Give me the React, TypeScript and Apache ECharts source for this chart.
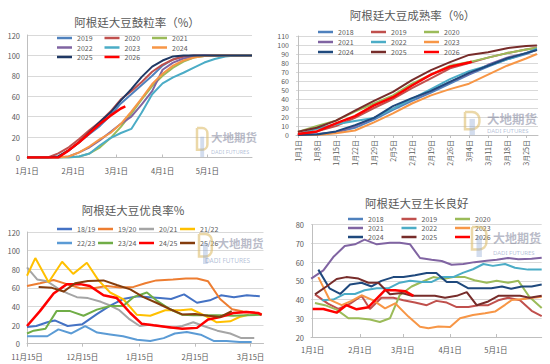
import React, { useEffect, useRef } from 'react';
import * as echarts from 'echarts';

const FONT = '"Noto Sans CJK SC", "Noto Sans", sans-serif';
const TXT = '#595959';

// ---------- Chart 1: 鼓粒率 ----------
const bulgeTitle = '阿根廷大豆鼓粒率（%）';
const bulgeTickDays = [0, 31, 60, 91, 121];
const bulgeTickLabels = ['1月1日', '2月1日', '3月1日', '4月1日', '5月1日'];
const bulgeDays = [0, 7, 14, 21, 28, 35, 42, 49, 56, 63, 70, 77, 84, 91, 98, 105, 112, 119, 126, 133, 140, 147, 151];
const bulge2019 = [0, 0, 0, 1, 7, 15, 23, 31, 41, 53, 62, 71, 80, 90, 96, 99, 100, 100, 100, 100, 100, 100, 100];
const bulge2020 = [0, 0, 0, 4, 10, 18, 27, 35, 45, 57, 65, 74, 84, 91, 96, 99, 100, 100, 100, 100, 100, 100, 100];
const bulge2021 = [0, 0, 0, 0, 0, 1, 4, 10, 19, 30, 43, 57, 70, 80, 88, 94, 98, 99.5, 100, 100, 100, 100, 100];
const bulge2022 = [0, 0, 0, 0, 1, 5, 10, 17, 25, 33, 40, 52, 65, 86, 93, 97, 99, 100, 100, 100, 100, 100, 100];
const bulge2023 = [0, 0, 0, 0, 0, 1, 4, 12, 19, 24, 28, 44, 62, 72.6, 78.5, 83, 88, 93, 96.5, 99, 100, 100, 100];
const bulge2024 = [0, 0, 0, 0, 1, 5, 11, 18, 24, 33, 45, 58, 72, 82, 90, 95, 98, 99.5, 100, 100, 100, 100, 100];
const bulge2025 = [0, 0, 0, 1, 7, 15, 25, 35, 44, 56, 67, 79, 89, 95, 99, 100, 100, 100, 100, 100, 100, 100, 100];
const bulge2026 = [[0, 0], [14, 0], [21, 0], [28, 7], [35, 15], [42, 24], [49, 33], [56, 41], [63, 48], [66, 50]];
const bulgeNames = ['2019', '2020', '2021', '2022', '2023', '2024', '2025', '2026'];
const bulgeColors = ['#4F81BD', '#C0504D', '#9BBB59', '#8064A2', '#4BACC6', '#F79646', '#1F3864', '#FF0000'];

// ---------- Chart 2: 成熟率 ----------
const matureTitle = '阿根廷大豆成熟率（%）';
const matureTickDays = [0, 7, 14, 21, 28, 35, 42, 49, 56, 63, 70, 77, 84];
const matureTickLabels = ['1月1日', '1月8日', '1月15日', '1月22日', '1月29日', '2月5日', '2月12日', '2月19日', '2月26日', '3月4日', '3月11日', '3月18日', '3月25日'];
const matureDays = [0, 7, 14, 21, 28, 35, 42, 49, 56, 63, 70, 77, 84, 88];
const mature2018 = [0, 1, 3, 8, 17, 28, 38, 47, 57, 67, 76, 84, 90, 95];
const mature2019 = [0, 4, 10, 19, 30, 40, 52, 63, 74, 80, 86, 91, 95, 97];
const mature2020 = [3.5, 10, 16, 26, 35, 44, 57, 67, 77, 81, 86, 91, 95, 97];
const mature2021 = [0, 0.5, 3, 10, 19, 29, 40, 49, 59, 68, 78, 86, 91, 95];
const mature2022 = [1, 7, 12, 15.5, 19, 29, 40, 51, 62, 71, 77, 84, 91, 96];
const mature2023 = [0, 0, 2, 5, 14, 24, 35, 44, 51, 57, 67, 77, 85, 90];
const mature2024 = [0, 0.5, 4, 11, 19, 32, 41, 49, 59, 69, 77, 85, 91, 94.4];
const mature2025 = [3.5, 8, 16, 27, 38, 48, 61, 72, 81, 89, 92, 96.5, 99, 99.5];
const mature2026 = [[0, 1], [7, 4], [14, 13], [21, 21], [28, 33], [35, 42], [42, 55], [49, 67], [56, 76], [63, 80.5], [64, 81.5]];
const matureNames = ['2018', '2019', '2020', '2021', '2022', '2023', '2024', '2025', '2026'];
const matureColors = ['#4F81BD', '#C0504D', '#9BBB59', '#8064A2', '#4BACC6', '#F79646', '#1F497D', '#772C2A', '#FF0000'];

// ---------- Chart 3: 优良率 ----------
const goodTitle = '阿根廷大豆优良率%';
const goodTicks = [0, 30, 61, 91, 121];
const goodTickLabels = ['11月15日', '12月15日', '1月15日', '2月15日', '3月15日'];
const good1819 = [[0, 18], [5, 19], [11, 23], [15, 25], [22, 19], [30, 21], [38, 32], [45, 41], [52, 48], [60, 51], [66, 50], [72, 49], [78, 48], [85, 53], [92, 44], [99, 46.6], [105, 52], [112, 50], [119, 52], [126, 51]];
const good1920 = [[0, 62], [7, 65], [14.4, 68.5], [21.6, 64], [28.8, 59.5], [36, 59.5], [43, 62], [50.5, 60.4], [57.7, 61], [64, 65], [70, 68], [79, 69], [86, 70], [92, 70], [98, 67], [104.5, 48], [111, 37], [117, 34.5], [125, 32.6], [127, 32]];
const good2021 = [[0, 82], [5.5, 69], [11, 67], [17, 59], [22, 54], [27, 50], [33, 49], [40, 45], [45, 41], [50, 36], [55, 27], [61, 19], [66, 20.4], [72, 19], [78, 17], [84, 19], [90, 23], [95.5, 19], [103, 14], [110, 11], [116, 6], [123, 6]];
const good2122 = [[0, 73], [4.5, 92], [11.7, 66], [19, 88], [25, 75], [32.4, 87], [38.7, 68], [45, 55], [52, 48], [59.5, 31], [66.7, 30], [74.8, 36], [83, 36], [89, 37], [95.5, 31], [102.7, 23], [110, 24], [115, 28.7], [120, 31]];
const good2223 = [[0, 8], [11, 8], [17, 15.4], [24, 11], [31.5, 19], [38, 12], [45, 10], [52, 8], [59.5, 4.3], [66.7, 3], [74, 6], [80, 11], [86.5, 12.5], [94, 9.7], [101, 3], [108, 3], [115, 1.8], [121.6, 1.8]];
const good2324 = [[0, 11], [3.6, 14], [10, 16], [16, 35], [23.4, 35], [30.6, 30], [37.8, 36.6], [45, 40.5], [52, 40.5], [57.6, 50], [64.9, 55], [70, 46.6], [77.5, 37], [84, 31], [90, 30.5], [97, 30.5], [104, 30.5], [111.7, 30], [119, 30.5], [127, 31]];
const good2425 = [[0, 19], [7, 35], [14.4, 54], [21.6, 64], [28.8, 64], [34, 62], [41.4, 52], [48.6, 49], [55.9, 33], [62, 21.5], [68.5, 19.7], [75.7, 18], [84, 16], [92, 17], [98, 26], [104.5, 28.7], [111.7, 33], [119, 34], [125, 33], [127, 31]];
const good2526 = [[6.3, 61], [13.5, 60], [19.8, 56], [26, 65], [33, 67.4], [41.4, 68], [48.6, 63], [55.9, 58.4], [63, 50], [70, 44], [77.5, 37], [84, 31.5], [91, 32], [98, 30], [104.5, 28.7], [110.8, 35]];
const goodNames = ['18/19', '19/20', '20/21', '21/22', '22/23', '23/24', '24/25', '25/26'];
const goodColors = ['#4472C4', '#ED7D31', '#A5A5A5', '#FFC000', '#5B9BD5', '#70AD47', '#FF0000', '#843C0C'];

// ---------- Chart 4: 生长良好 ----------
const growTitle = '阿根廷大豆生长良好';
const growTickDays = [0, 31, 59, 90, 120];
const growTickLabels = ['1月1日', '2月1日', '3月1日', '4月1日', '5月1日'];
const grow2018: number[][] = [];
const grow2019 = [[1.5, 42.8], [10, 37.8], [16.8, 35], [24.5, 37.8], [32, 42], [37.5, 35], [45, 41], [52.8, 41], [59.4, 39.6], [67, 38.4], [74.7, 37], [81, 39.3], [87.8, 38.4], [94.3, 36], [102, 36], [108.5, 37], [115, 37], [121.6, 39.6], [128, 41], [135.8, 39.6], [143.4, 34], [150, 31.2]];
const grow2020 = [[1.5, 38.2], [8, 37], [15.7, 34.6], [23.4, 30], [30, 30], [37.5, 29.3], [44, 28], [50.6, 30], [57, 42.3], [64.8, 47], [71.4, 49.4], [79, 52], [85.6, 51], [92, 52], [99.8, 52], [106, 50.3], [114, 49], [120.5, 50], [128, 49], [134.7, 50], [142, 41.4], [150, 35.5]];
const grow2021 = [[-1, 51.2], [7, 55.6], [13.5, 62.7], [21, 68.6], [27.7, 69.5], [34, 72], [42, 69.5], [50.6, 70.4], [57, 70.4], [63.8, 69.5], [70.3, 62.2], [77.9, 61.3], [84.5, 60.6], [91, 58.6], [98.7, 59], [106, 60], [114, 60.8], [120.5, 61.3], [128, 62.2], [134.7, 61.5], [143.4, 61.8], [150, 62.4]];
const grow2022 = [[6, 39.6], [13.5, 40], [21, 43], [27.7, 43], [34, 45], [42, 46], [49.6, 46], [57, 49], [63.8, 50], [71.4, 49.4], [78, 49.4], [84.5, 52], [92, 52], [98.7, 54.4], [105, 56.2], [111.8, 59], [118, 58], [126, 59], [132.5, 57], [141, 56], [150, 56]];
const grow2023 = [[3.7, 52], [11, 40], [19, 37], [25.5, 39.3], [32, 42.3], [39.7, 39.6], [47.4, 35.3], [54, 38], [62.7, 30.9], [70.3, 25.5], [75.8, 24.7], [82.3, 25.6], [90, 25.3], [96.5, 30], [105, 31.8], [112.9, 32.7], [119.4, 33.6], [126, 37.2], [130.4, 39.8], [140, 40.5], [150, 41.5]];
const grow2024 = [[3.7, 56], [11, 46], [18, 43], [24.5, 48], [32, 49], [38.6, 47], [45, 50], [52.8, 52], [59.4, 52], [67, 53], [74.7, 54.2], [81, 54.2], [87.8, 49.4], [94.3, 49.4], [102, 46], [109.6, 46], [117, 46], [124, 47], [130, 45.8], [137, 47], [143.4, 47], [150, 48]];
const grow2025 = [[1.5, 42.8], [9, 47], [15.7, 51], [22, 52], [30, 51.2], [36.5, 49], [43, 49], [50.6, 42.8], [58.3, 43.5], [65, 42], [72.5, 42], [80, 42], [86.7, 41], [94.3, 42], [100.9, 44], [107.4, 37], [115, 39], [121.6, 42], [128, 42], [135.8, 42], [142, 41], [150, 42]];
const grow2026 = [[0, 35], [7, 35], [15.7, 33], [22, 37], [28.8, 34.8], [36.5, 35.9], [47.4, 45], [54, 45], [60.5, 44.5], [66, 42]];
const growNames = ['2018', '2019', '2020', '2021', '2022', '2023', '2024', '2025', '2026'];
const growColors = ['#4F81BD', '#C0504D', '#9BBB59', '#8064A2', '#4BACC6', '#F79646', '#1F497D', '#772C2A', '#FF0000'];

const zip = (xs: number[], ys: number[]) => ys.map((y, i) => [xs[i], y]);

function lineSeries(id: string, name: string, data: any[], color: string, g: number, width = 2) {
  return {
    type: 'line', name: id + name, data, xAxisIndex: g, yAxisIndex: g, color,
    lineStyle: { color, width }, showSymbol: false, symbol: 'none', silent: true,
  };
}

function legendRow(id: string, names: string[], left: number, y: number, pitch: number) {
  return {
    data: names.map((n) => id + n), left, top: y - 3.75, orient: 'horizontal',
    itemWidth: 15, itemHeight: 2.5, itemGap: 0, icon: 'rect', padding: 0, selectedMode: false,
    formatter: (n: string) => n.slice(id.length),
    textStyle: { fontSize: 7, color: TXT, width: pitch - 20, lineHeight: 7.5, fontFamily: FONT },
  };
}

function xAxis(g: number, min: number, max: number, ticks: number[], labels: string[], rotate = 0, inside = true) {
  return {
    gridIndex: g, type: 'value', min, max,
    axisLine: { show: true, lineStyle: { color: '#bfbfbf' } },
    axisTick: { show: true, customValues: ticks, length: 3, inside, lineStyle: { color: '#bfbfbf' } },
    axisLabel: {
      customValues: ticks, rotate, fontSize: rotate ? 7 : 7.5, color: TXT, fontFamily: FONT, margin: rotate ? 5 : 9,
      formatter: (v: number) => { const i = ticks.indexOf(v); return i >= 0 ? labels[i] : ''; },
    },
    splitLine: { show: false },
  };
}

function yAxis(g: number, min: number, max: number, interval: number, fs = 7.5) {
  return {
    gridIndex: g, type: 'value', min, max, interval,
    axisLine: { show: true, lineStyle: { color: '#bfbfbf' } },
    axisTick: { show: false },
    splitLine: { show: true, lineStyle: { color: '#d9d9d9' } },
    axisLabel: { fontSize: fs, lineHeight: fs, color: TXT, fontFamily: FONT, margin: 7 },
  };
}

function titleText(text: string, x: number, y: number, size: number) {
  return { type: 'text', x, y, z: 50, style: { text, fontSize: size, fill: TXT, align: 'center', verticalAlign: 'middle', fontFamily: FONT } };
}

function watermark(ix: number, iy: number, iw: number, ih: number, tx: number, ty: number, fs: number, sx: number, sy: number, sfs: number) {
  return [
    { type: 'rect', z: 60, shape: { x: ix, y: iy, width: iw * 0.8, height: ih * 0.75, r: [0, iw * 0.4, iw * 0.4, 0] }, style: { fill: 'none', stroke: 'rgba(222,190,110,0.6)', lineWidth: 2.5 } },
    { type: 'rect', z: 60, shape: { x: ix + iw * 0.25, y: iy + ih * 0.3, width: iw * 0.3, height: ih * 0.7 }, style: { fill: 'rgba(140,165,210,0.38)' } },
    { type: 'text', z: 60, x: tx, y: ty, style: { text: '大地期货', fontSize: fs, fontWeight: 'bold', fill: 'rgba(115,120,145,0.5)', verticalAlign: 'middle', fontFamily: FONT } },
    { type: 'text', z: 60, x: sx, y: sy, style: { text: 'DADI FUTURES', fontSize: sfs, fill: 'rgba(105,130,175,0.5)', verticalAlign: 'middle', fontFamily: '"Noto Sans", sans-serif' } },
  ];
}

export default function App() {
  const ref = useRef<HTMLDivElement>(null);
  useEffect(() => {
    if (!ref.current) return;
    const chart = echarts.init(ref.current, undefined, { renderer: 'svg' });
    const bulgeVals = [bulge2019, bulge2020, bulge2021, bulge2022, bulge2023, bulge2024, bulge2025];
    const matureVals = [mature2018, mature2019, mature2020, mature2021, mature2022, mature2023, mature2024, mature2025];
    const goodVals = [good1819, good1920, good2021, good2122, good2223, good2324, good2425, good2526];
    const growVals = [grow2018, grow2019, grow2020, grow2021, grow2022, grow2023, grow2024, grow2025, grow2026];

    const series: any[] = [];
    bulgeVals.forEach((v, i) => series.push(lineSeries('a_', bulgeNames[i], zip(bulgeDays, v), bulgeColors[i], 0)));
    series.push(lineSeries('a_', '2026', bulge2026, bulgeColors[7], 0, 2.5));
    matureVals.forEach((v, i) => series.push(lineSeries('b_', matureNames[i], zip(matureDays, v), matureColors[i], 1)));
    series.push(lineSeries('b_', '2026', mature2026, matureColors[8], 1, 2.5));
    goodVals.forEach((v, i) => series.push(lineSeries('c_', goodNames[i], v, goodColors[i], 2, i === 6 ? 2.5 : 2)));
    growVals.forEach((v, i) => series.push(lineSeries('d_', growNames[i], v, growColors[i], 3, i === 8 ? 2.5 : 2)));

    chart.setOption({
      animation: false,
      backgroundColor: '#ffffff',
      textStyle: { fontFamily: FONT },
      grid: [
        { left: 27, top: 35, width: 225, height: 122.5 },
        { left: 296, top: 36, width: 242, height: 99 },
        { left: 27, top: 232, width: 236.5, height: 111.7 },
        { left: 311, top: 224.7, width: 230.7, height: 112.3 },
      ],
      xAxis: [
        xAxis(0, 0, 151, bulgeTickDays, bulgeTickLabels),
        xAxis(1, -0.7, 88.4, matureTickDays, matureTickLabels, 90, false),
        xAxis(2, 0, 128, goodTicks, goodTickLabels, 0, false),
        xAxis(3, -1.1, 150, growTickDays, growTickLabels),
      ],
      yAxis: [yAxis(0, 0, 120, 20), yAxis(1, 0, 110, 10, 7), yAxis(2, 0, 120, 20), yAxis(3, 20, 80, 10)],
      legend: [
        legendRow('a_', bulgeNames.slice(0, 3), 57, 38, 47.5),
        legendRow('a_', bulgeNames.slice(3, 6), 57, 47.5, 47.5),
        legendRow('a_', bulgeNames.slice(6, 8), 57, 57, 47.5),
        legendRow('b_', matureNames.slice(0, 3), 318, 32, 53),
        legendRow('b_', matureNames.slice(3, 6), 318, 42, 53),
        legendRow('b_', matureNames.slice(6, 9), 318, 52, 53),
        legendRow('c_', goodNames.slice(0, 4), 57, 229, 41),
        legendRow('c_', goodNames.slice(4, 8), 57, 243, 41),
        legendRow('d_', growNames.slice(0, 3), 348, 219, 53.5),
        legendRow('d_', growNames.slice(3, 6), 348, 228, 53.5),
        legendRow('d_', growNames.slice(6, 9), 348, 237, 53.5),
      ],
      graphic: {
        elements: [
          titleText(bulgeTitle, 137, 22, 11.5),
          titleText(matureTitle, 412.5, 15, 11.5),
          titleText(goodTitle, 133, 210, 11.5),
          titleText(growTitle, 416.7, 203, 11.5),
          ...watermark(197, 128, 13, 29, 211, 137, 11.5, 211, 152, 5.5),
          ...watermark(465, 112, 18, 23, 487, 118, 12.5, 487, 131, 6),
          ...watermark(199, 234, 16, 30, 217.5, 243, 11.5, 205, 260, 6.5),
          ...watermark(472, 227, 18, 30, 493, 237, 12, 493, 253, 6),
        ],
      },
      series,
    });
    return () => chart.dispose();
  }, []);
  return <div ref={ref} style={{ position: 'fixed', left: 0, top: 0, width: 550, height: 364, background: '#fff' }} />;
}
